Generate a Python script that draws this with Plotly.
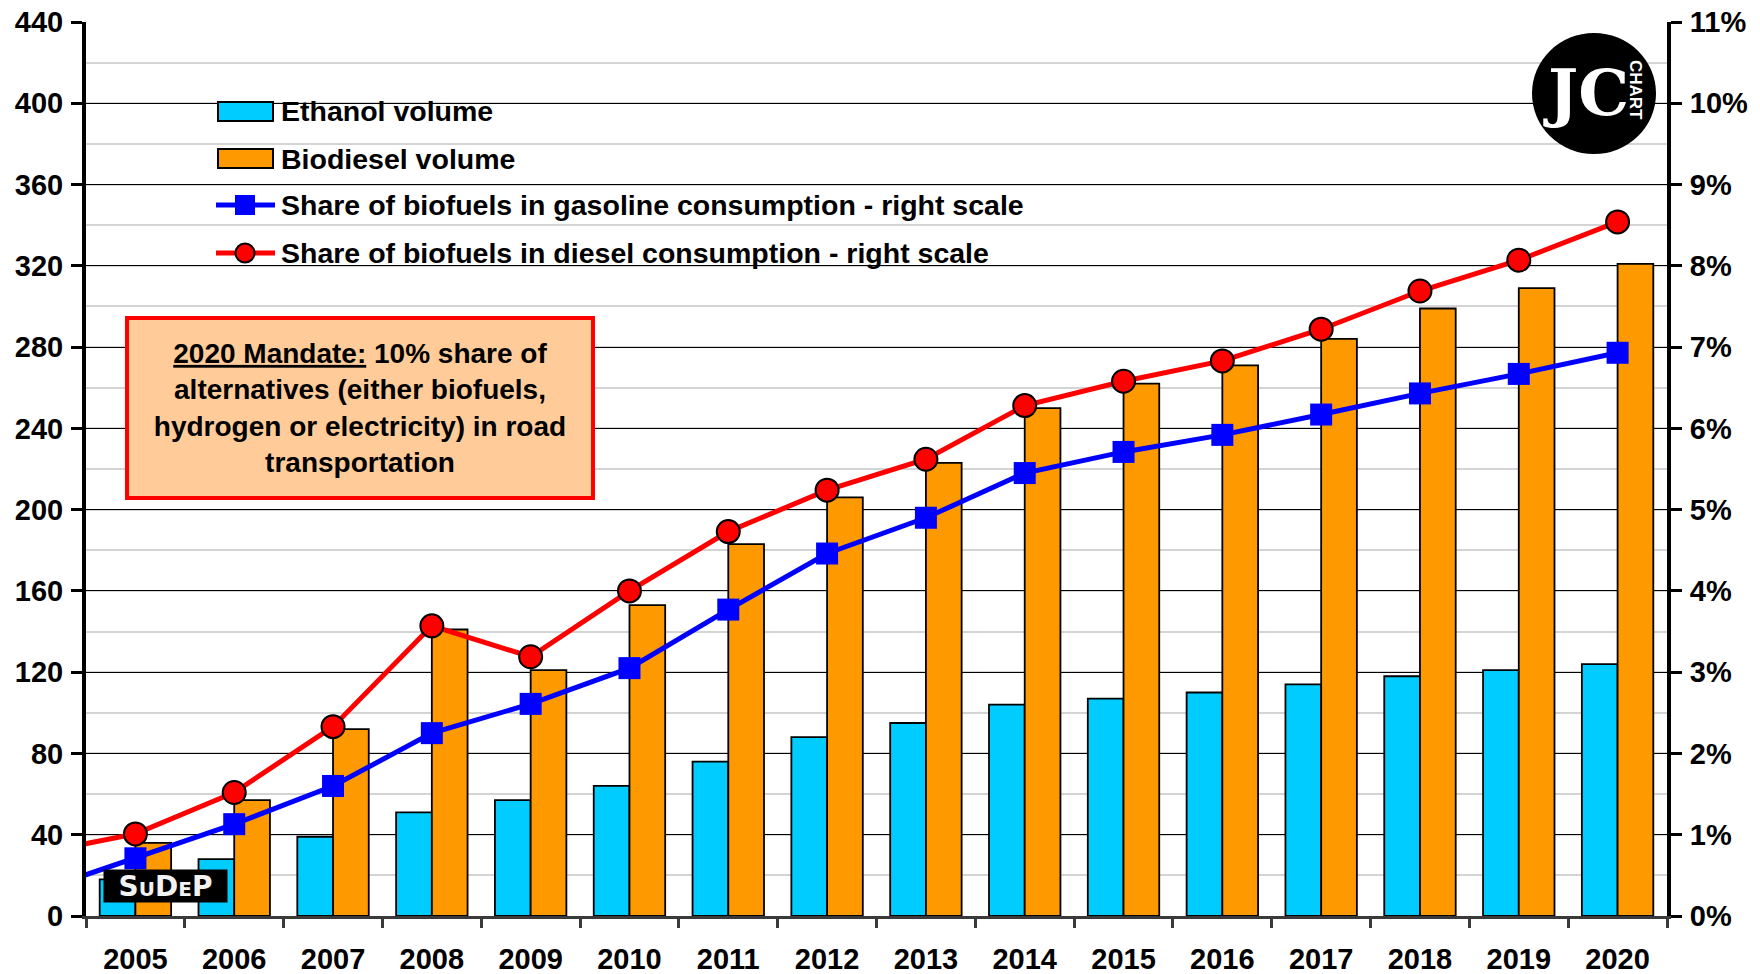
import plotly.graph_objects as go

# ---------------- data ----------------
years = [2005, 2006, 2007, 2008, 2009, 2010, 2011, 2012, 2013, 2014, 2015, 2016, 2017, 2018, 2019, 2020]
ethanol_volume = [18, 28, 39, 51, 57, 64, 76, 88, 95, 104, 107, 110, 114, 118, 121, 124]
biodiesel_volume = [36, 57, 92, 141, 121, 153, 183, 206, 223, 250, 262, 271, 284, 299, 309, 321]
# share series start one year earlier (line enters from the left edge of the chart)
share_years = [2004] + years
gasoline_share = [0.30, 0.71, 1.13, 1.60, 2.25, 2.61, 3.05, 3.77, 4.46, 4.90, 5.45, 5.71, 5.92, 6.17, 6.43, 6.67, 6.93]
diesel_share = [0.77, 1.01, 1.52, 2.33, 3.57, 3.19, 4.00, 4.73, 5.24, 5.62, 6.28, 6.58, 6.83, 7.22, 7.69, 8.07, 8.54]

legend_labels = ["Ethanol volume", "Biodiesel volume",
                 "Share of biofuels in gasoline consumption - right scale",
                 "Share of biofuels in diesel consumption - right scale"]
left_ticks = list(range(0, 441, 40))
right_ticks = list(range(0, 12))

C_ETH = "#00CCFF"
C_BIO = "#FF9900"
C_BLUE = "#0000FF"
C_RED = "#FF0000"
FONT = "Liberation Sans, Arial, sans-serif"

W, H = 1760, 974
L, R, T, B = 86, 1667, 22, 916   # plot area in pixels


def px(x):
    return (x - L) / (R - L)


def py(y):
    return (B - y) / (B - T)


fig = go.Figure()
fig.add_trace(go.Bar(x=years, y=ethanol_volume, name=legend_labels[0],
                     marker=dict(color=C_ETH, line=dict(color="black", width=1.8)),
                     offsetgroup="e", showlegend=False))
fig.add_trace(go.Bar(x=years, y=biodiesel_volume, name=legend_labels[1],
                     marker=dict(color=C_BIO, line=dict(color="black", width=1.8)),
                     offsetgroup="b", showlegend=False))
fig.add_trace(go.Scatter(x=share_years, y=gasoline_share, yaxis="y2", mode="lines+markers",
                         name=legend_labels[2], line=dict(color=C_BLUE, width=5),
                         marker=dict(symbol="square", size=22, color=C_BLUE), showlegend=False))
fig.add_trace(go.Scatter(x=share_years, y=diesel_share, yaxis="y2", mode="lines+markers",
                         name=legend_labels[3], line=dict(color=C_RED, width=5),
                         marker=dict(symbol="circle", size=23, color=C_RED,
                                     line=dict(color="black", width=2)), showlegend=False))

shapes = []
annotations = []

# legend background (hides gridlines)
shapes.append(dict(type="rect", xref="paper", yref="paper", layer="between",
                   x0=px(127), x1=px(1120), y0=py(285), y1=py(75),
                   fillcolor="white", line=dict(width=0)))
# logo background
shapes.append(dict(type="rect", xref="paper", yref="paper", layer="between",
                   x0=px(1525), x1=px(1663), y0=py(165), y1=py(28),
                   fillcolor="white", line=dict(width=0)))
# logo circle
shapes.append(dict(type="circle", xref="paper", yref="paper", layer="above",
                   x0=px(1532), x1=px(1656), y0=py(154), y1=py(33),
                   fillcolor="black", line=dict(width=0)))

# legend glyphs
rows = [111, 159, 205, 253]
shapes.append(dict(type="rect", xref="paper", yref="paper", layer="above",
                   x0=px(218), x1=px(273), y0=py(121), y1=py(102),
                   fillcolor=C_ETH, line=dict(color="black", width=2)))
shapes.append(dict(type="rect", xref="paper", yref="paper", layer="above",
                   x0=px(218), x1=px(273), y0=py(168), y1=py(149),
                   fillcolor=C_BIO, line=dict(color="black", width=2)))
shapes.append(dict(type="line", xref="paper", yref="paper", layer="above",
                   x0=px(216), x1=px(275), y0=py(rows[2]), y1=py(rows[2]),
                   line=dict(color=C_BLUE, width=5)))
shapes.append(dict(type="rect", xref="paper", yref="paper", layer="above",
                   x0=px(235), x1=px(255), y0=py(rows[2] + 10), y1=py(rows[2] - 10),
                   fillcolor=C_BLUE, line=dict(width=0)))
shapes.append(dict(type="line", xref="paper", yref="paper", layer="above",
                   x0=px(216), x1=px(275), y0=py(rows[3]), y1=py(rows[3]),
                   line=dict(color=C_RED, width=5)))
shapes.append(dict(type="circle", xref="paper", yref="paper", layer="above",
                   x0=px(235.5), x1=px(254.5), y0=py(rows[3] + 9.5), y1=py(rows[3] - 9.5),
                   fillcolor=C_RED, line=dict(color="black", width=2)))

for lab, yy in zip(legend_labels, rows):
    annotations.append(dict(xref="paper", yref="paper", x=px(279), y=py(yy),
                            xanchor="left", yanchor="middle", showarrow=False,
                            text="<b>%s</b>" % lab,
                            font=dict(family=FONT, size=28.5, color="black")))

# mandate box
annotations.append(dict(xref="paper", yref="paper", x=px(360), y=py(408),
                        xanchor="center", yanchor="middle", showarrow=False,
                        text="<b><u>2020 Mandate:</u> 10% share of<br>alternatives (either biofuels,<br>"
                             "hydrogen or electricity) in road<br>transportation</b>",
                        align="center", width=462, height=176,
                        bgcolor="#FFCC99", bordercolor=C_RED, borderwidth=4, borderpad=0,
                        font=dict(family=FONT, size=28, color="black")))

# SuDeP logo
annotations.append(dict(xref="paper", yref="paper", x=px(165.5), y=py(886),
                        xanchor="center", yanchor="middle", showarrow=False,
                        text="<b>S<span style='font-size:20px'>U</span>D<span style='font-size:20px'>E</span>P</b>",
                        width=123, height=32, bgcolor="black", borderpad=0,
                        font=dict(family="DejaVu Sans, sans-serif", size=28, color="#f2f2f2")))

# chart logo text
annotations.append(dict(xref="paper", yref="paper", x=px(1586), y=py(93),
                        xanchor="center", yanchor="middle", showarrow=False,
                        text="<b>JC</b>",
                        font=dict(family="DejaVu Serif, serif", size=64, color="white")))
annotations.append(dict(xref="paper", yref="paper", x=px(1636), y=py(90),
                        xanchor="center", yanchor="middle", showarrow=False,
                        text="<b>CHART</b>", textangle=90,
                        font=dict(family=FONT, size=17, color="white")))

tickfont = dict(family=FONT, size=29, color="black", weight="bold")

fig.update_layout(
    width=W, height=H,
    margin=dict(l=L, r=W - R, t=T, b=H - B, autoexpand=False),
    paper_bgcolor="white", plot_bgcolor="white",
    barmode="group", bargap=0.277, bargroupgap=0,
    font=dict(family=FONT, size=27, color="black"),
    showlegend=False,
    xaxis=dict(range=[2004.5, 2020.5], tickmode="array", tickvals=years, automargin=False,
               ticktext=[str(y) for y in years], ticks="", ticklabelstandoff=15,
               showline=True, linecolor="#3a3a3a", linewidth=3, showgrid=False, zeroline=False,
               tickfont=tickfont,
               minor=dict(tick0=2004.5, dtick=1, ticks="outside", ticklen=9, tickwidth=3,
                          tickcolor="#3a3a3a", showgrid=False)),
    yaxis=dict(range=[0, 440], tickmode="array", tickvals=left_ticks, automargin=False,
               showgrid=True, gridcolor="black", gridwidth=1, zeroline=False,
               showline=True, linecolor="black", linewidth=4,
               ticks="outside", ticklen=11, tickwidth=3, tickcolor="black",
               ticklabelstandoff=2, tickfont=tickfont,
               minor=dict(dtick=20, tick0=0, showgrid=True, gridcolor="#d4d4d4", gridwidth=1.5)),
    yaxis2=dict(range=[0, 11], tickmode="array", tickvals=right_ticks, automargin=False,
                ticktext=["%d%%" % v for v in right_ticks],
                overlaying="y", side="right", showgrid=False, zeroline=False,
                showline=True, linecolor="black", linewidth=4,
                ticks="outside", ticklen=11, tickwidth=3, tickcolor="black",
                ticklabelstandoff=2, tickfont=tickfont),
    shapes=shapes,
    annotations=annotations,
)

fig.write_html("out.html", config={"displayModeBar": False},
               post_script="document.body.style.margin='0px';document.body.style.overflow='hidden';")
